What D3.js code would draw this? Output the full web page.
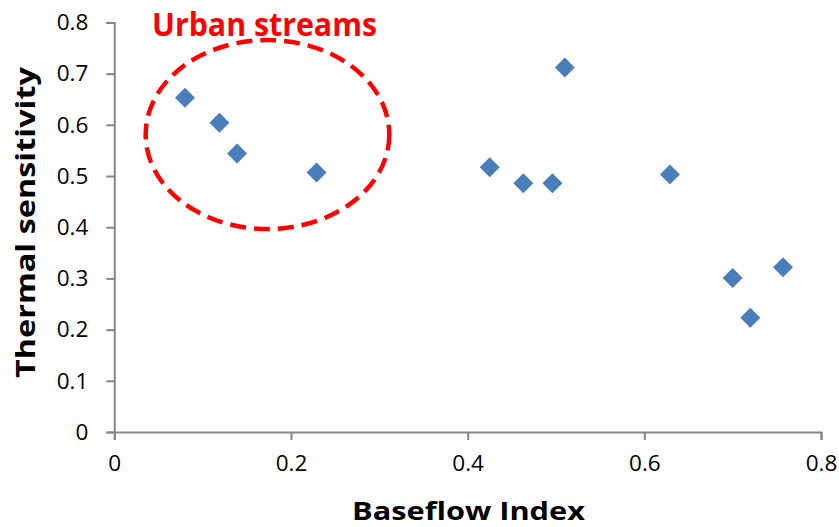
<!DOCTYPE html>
<html>
<head>
<meta charset="utf-8">
<script src="https://cdn.jsdelivr.net/npm/d3@7"></script>
<style>
html,body{margin:0;padding:0;background:#fff;}
svg{display:block;}
</style>
</head>
<body>
<svg id="chart" width="839" height="527"></svg>
<script>
// ---- data ----
const baseflowIndex = [0.080, 0.119, 0.139, 0.229, 0.425, 0.463, 0.496, 0.510, 0.629, 0.700, 0.720, 0.757];
const thermalSensitivity = [0.653, 0.604, 0.544, 0.507, 0.517, 0.486, 0.486, 0.712, 0.503, 0.301, 0.223, 0.322];
const xTicks = [0, 0.2, 0.4, 0.6, 0.8];
const yTicks = [0, 0.1, 0.2, 0.3, 0.4, 0.5, 0.6, 0.7, 0.8];
const xTitle = "Baseflow Index";
const yTitle = "Thermal sensitivity";
const annotationLabel = "Urban streams";
// annotation ellipse in data units: center and radii
const annotationCenter = [0.1734, 0.581];
const annotationRadii = [0.1379, 0.1846];

const svg = d3.select("#chart");
const mLeft = 114.3, mRight = 821, mTop = 22.4, mBottom = 432;
const x = d3.scaleLinear().domain([0, 0.8]).range([mLeft, mRight]);
const y = d3.scaleLinear().domain([0, 0.8]).range([mBottom, mTop]);

const font = "'Open Sans', 'Liberation Sans', sans-serif";
const axisColor = "#868686";

// y axis
const yAxis = svg.append("g").attr("transform", `translate(${mLeft},0)`)
  .call(d3.axisLeft(y).tickValues(yTicks).tickSize(8).tickPadding(18)
    .tickFormat(d => d === 0 ? "0" : d3.format(".1f")(d)));
// x axis
const xAxis = svg.append("g").attr("transform", `translate(0,${mBottom})`)
  .call(d3.axisBottom(x).tickValues(xTicks).tickSize(8).tickPadding(15)
    .tickFormat(d => d === 0 ? "0" : d3.format(".1f")(d)));

[yAxis, xAxis].forEach(g => {
  g.select(".domain").attr("stroke", axisColor).attr("stroke-width", 2);
  g.selectAll(".tick line").attr("stroke", axisColor).attr("stroke-width", 2);
  g.selectAll(".tick text").attr("fill", "#000").style("font-family", font)
    .style("font-size", "22.5px");
});

// points
const pts = baseflowIndex.map((v, i) => [v, thermalSensitivity[i]]);
svg.append("g").selectAll("path").data(pts).join("path")
  .attr("d", d3.symbol().type(d3.symbolSquare).size(200))
  .attr("transform", d => `translate(${x(d[0])},${y(d[1])}) rotate(45)`)
  .attr("fill", "#4a7ebb");

// annotation ellipse
svg.append("ellipse")
  .attr("cx", x(annotationCenter[0]))
  .attr("cy", y(annotationCenter[1]))
  .attr("rx", x(annotationRadii[0]) - x(0))
  .attr("ry", y(0) - y(annotationRadii[1]))
  .attr("fill", "none")
  .attr("stroke", "#ff0000")
  .attr("stroke-width", 4.5)
  .attr("stroke-dasharray", "16 8");

svg.append("text")
  .attr("x", 152).attr("y", 36)
  .attr("textLength", 225).attr("lengthAdjust", "spacingAndGlyphs")
  .style("font-family", font).style("font-weight", "bold").style("font-size", "31.5px")
  .attr("fill", "#ff0000")
  .text(annotationLabel);

// axis titles
svg.append("text")
  .attr("x", 352).attr("y", 519.5)
  .attr("textLength", 233).attr("lengthAdjust", "spacingAndGlyphs")
  .style("font-family", font).style("font-weight", "bold").style("font-size", "25.5px")
  .attr("fill", "#000")
  .text(xTitle);

svg.append("text")
  .attr("transform", "translate(35,378) rotate(-90)")
  .attr("textLength", 311).attr("lengthAdjust", "spacingAndGlyphs")
  .style("font-family", font).style("font-weight", "bold").style("font-size", "27px")
  .attr("fill", "#000")
  .text(yTitle);
</script>
</body>
</html>
